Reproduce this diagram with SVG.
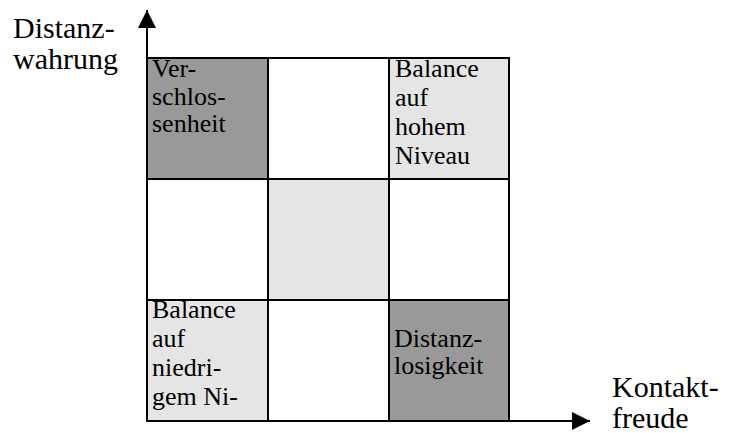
<svg xmlns="http://www.w3.org/2000/svg" width="739" height="433" viewBox="0 0 739 433">
  <style>
    .cell { stroke: #000; stroke-width: 2; }
    .dark { fill: #999999; }
    .light { fill: #e5e5e5; }
    .white { fill: #ffffff; }
    text { font-family: 'Liberation Serif', 'Times New Roman', 'DejaVu Serif', serif; fill: #000; }
    .t { font-size: 26px; }
    .ax { font-size: 30px; }
    .axis { stroke: #000; stroke-width: 2; fill: none; }
  </style>
  <defs>
    <marker id="arr" viewBox="0 0 18 18" markerWidth="18" markerHeight="18" refX="18" refY="9" orient="auto" markerUnits="userSpaceOnUse">
      <path d="M0,0 L18,9 L0,18 Z" fill="#000"/>
    </marker>
  </defs>
  <rect width="739" height="433" fill="#fff"/>

  <g id="cell-r1c1">
    <rect class="cell dark" x="147" y="58" width="121" height="121"/>
    <text class="t" font-family="Liberation Serif, serif"><tspan x="152" y="77">Ver-</tspan><tspan x="152" y="105">schlos-</tspan><tspan x="152" y="132">senheit</tspan></text>
  </g>
  <g id="cell-r1c2">
    <rect class="cell white" x="268" y="58" width="121" height="121"/>
  </g>
  <g id="cell-r1c3">
    <rect class="cell light" x="389" y="58" width="120" height="121"/>
    <text class="t" font-family="Liberation Serif, serif"><tspan x="395" y="77">Balance</tspan><tspan x="395" y="106">auf</tspan><tspan x="395" y="135">hohem</tspan><tspan x="395" y="164">Niveau</tspan></text>
  </g>
  <g id="cell-r2c1">
    <rect class="cell white" x="147" y="179" width="121" height="121"/>
  </g>
  <g id="cell-r2c2">
    <rect class="cell light" x="268" y="179" width="121" height="121"/>
  </g>
  <g id="cell-r2c3">
    <rect class="cell white" x="389" y="179" width="120" height="121"/>
  </g>
  <g id="cell-r3c1">
    <rect class="cell light" x="147" y="300" width="121" height="121"/>
    <text class="t" font-family="Liberation Serif, serif"><tspan x="152" y="318">Balance</tspan><tspan x="152" y="347">auf</tspan><tspan x="152" y="376">niedri-</tspan><tspan x="152" y="405">gem Ni-</tspan></text>
  </g>
  <g id="cell-r3c2">
    <rect class="cell white" x="268" y="300" width="121" height="121"/>
  </g>
  <g id="cell-r3c3">
    <rect class="cell dark" x="389" y="300" width="120" height="121"/>
    <text class="t" font-family="Liberation Serif, serif"><tspan x="394" y="347">Distanz-</tspan><tspan x="394" y="374">losigkeit</tspan></text>
  </g>

  <g id="connectors">
    <line class="axis" x1="147" y1="422" x2="147" y2="10" marker-end="url(#arr)"/>
    <line class="axis" x1="146" y1="421" x2="590" y2="421" marker-end="url(#arr)"/>
  </g>

  <g id="label-y">
    <text class="ax" font-family="Liberation Serif, serif"><tspan x="13" y="38">Distanz-</tspan><tspan x="13" y="69">wahrung</tspan></text>
  </g>
  <g id="label-x">
    <text class="ax" font-family="Liberation Serif, serif"><tspan x="612" y="397">Kontakt-</tspan><tspan x="612" y="428">freude</tspan></text>
  </g>
</svg>
